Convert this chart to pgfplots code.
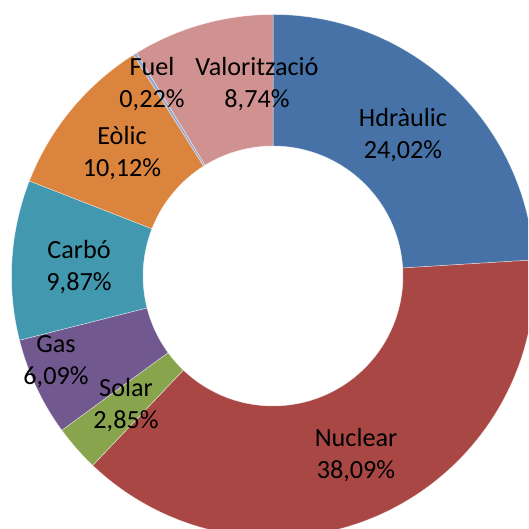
\documentclass[border=0pt]{standalone}
\usepackage{pgfplots}
\pgfplotsset{compat=1.18}
\usepackage{fontspec}
\setmainfont{Carlito}
\definecolor{chyd}{HTML}{4672A7}
\definecolor{cnuc}{HTML}{A84744}
\definecolor{csol}{HTML}{88A54E}
\definecolor{cgas}{HTML}{71588F}
\definecolor{ccar}{HTML}{4298AF}
\definecolor{ceol}{HTML}{DA843E}
\definecolor{cfue}{HTML}{93A9CF}
\definecolor{cval}{HTML}{D09290}
% slice: start percent, end percent, colour (outer radius 261.5, inner 130)
\newcommand{\slicew}[3]{%
  \fill[#3, draw=white, draw opacity=0.6, line width=0.5pt]
    ({261.5*cos(90-3.6*#1)},{261.5*sin(90-3.6*#1)})
    arc[start angle={90-3.6*#1}, end angle={90-3.6*#2}, radius=261.5pt]
    -- ({130*cos(90-3.6*#2)},{130*sin(90-3.6*#2)})
    arc[start angle={90-3.6*#2}, end angle={90-3.6*#1}, radius=130pt]
    -- cycle;}
\newcommand{\lab}[4]{%
  \node[anchor=base, inner sep=0pt, font=\fontsize{26.2}{32}\selectfont] at (#1,#2) {#3};
  \node[anchor=base, inner sep=0pt, font=\fontsize{26.2}{32}\selectfont] at (#1,{#2-32}) {#4};}
\begin{document}
\begin{tikzpicture}
\begin{axis}[hide axis, x=1pt, y=1pt, xmin=-273, xmax=255, ymin=-253, ymax=276, clip=true]
% shares (percent): Hidraulic 24.02, Nuclear 38.09, Solar 2.85, Gas 6.09,
% Carbo 9.87, Eolic 10.12, Fuel 0.22, Valoritzacio 8.74
\slicew{0}{24.02}{chyd}
\slicew{24.02}{62.11}{cnuc}
\slicew{62.11}{64.96}{csol}
\slicew{64.96}{71.05}{cgas}
\slicew{71.05}{80.92}{ccar}
\slicew{80.92}{91.04}{ceol}
\slicew{91.04}{91.26}{cfue}
\slicew{91.26}{100}{cval}
\lab{130}{149}{Hdràulic}{24,02\%}
\lab{83}{-171}{Nuclear}{38,09\%}
\lab{-147}{-121}{Solar}{2,85\%}
\lab{-217}{-77}{Gas}{6,09\%}
\lab{-194}{17}{Carbó}{9,87\%}
\lab{-151}{131}{Eòlic}{10,12\%}
\lab{-121}{200.3}{Fuel}{0,22\%}
\lab{-16}{200.3}{Valorització}{8,74\%}
\end{axis}
\useasboundingbox (current axis.south west) rectangle (current axis.north east);
\end{tikzpicture}
\end{document}
